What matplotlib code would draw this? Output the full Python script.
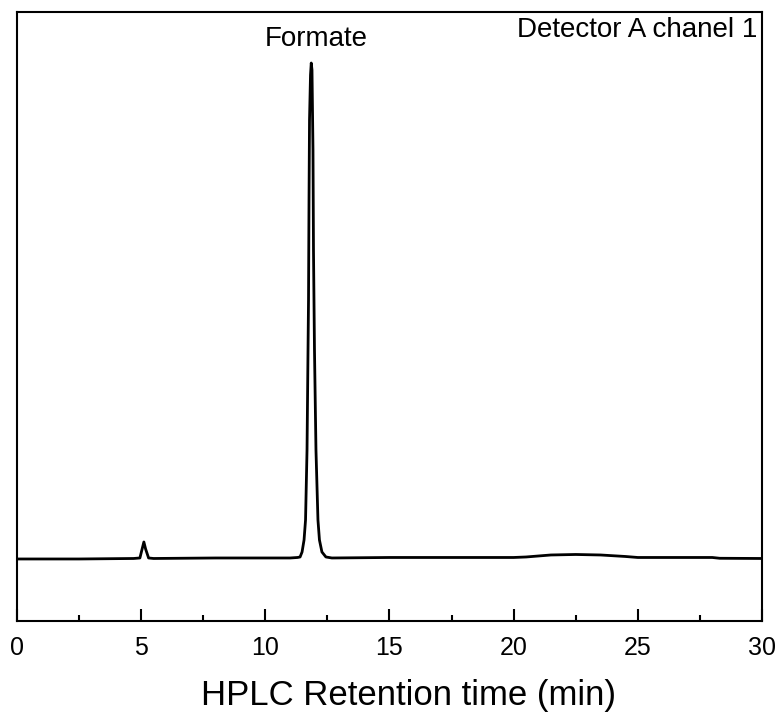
import matplotlib
matplotlib.use('Agg')
import matplotlib.pyplot as plt
from matplotlib.ticker import MultipleLocator

plt.rcParams['font.family'] = ['Liberation Sans', 'DejaVu Sans']

# Cromatograma (tiempo en min, senal en unidades arbitrarias)
tiempo = [0.0, 2.5, 4.7, 4.95, 5.05, 5.11, 5.18, 5.3, 5.5, 8.0, 10.0, 11.0,
          11.3, 11.4, 11.48, 11.56, 11.62, 11.68, 11.72, 11.74, 11.76, 11.78,
          11.82, 11.85, 11.88, 11.92, 11.94, 11.98, 12.04, 12.12, 12.18, 12.28,
          12.44, 12.68, 15.0, 20.0, 20.5, 21.0, 21.5, 22.5, 23.5, 24.5, 25.0,
          28.0, 28.3, 30.0]
senal = [62, 62, 62.5, 63, 73, 79, 72, 63, 62.5, 63, 63, 63,
         63.5, 64, 69, 81, 101, 171, 271, 321, 421, 501,
         546, 558, 551, 471, 371, 271, 171, 101, 81, 69,
         64, 63, 63.5, 63.5, 64, 65, 66, 66.5, 66, 64.5, 63.5,
         63.5, 62.7, 62.5]

x_ticks = [0, 5, 10, 15, 20, 25, 30]

fig = plt.figure(figsize=(7.82, 7.15), dpi=100)
ax = fig.add_axes([0.0217, 0.1315, 0.9527, 0.8517])

ax.plot(tiempo, senal, color='black', linewidth=2.0)

ax.set_xlim(0, 30)
ax.set_ylim(0, 609)
ax.set_xticks(x_ticks)
ax.xaxis.set_minor_locator(MultipleLocator(2.5))
ax.set_yticks([])
ax.tick_params(axis='x', which='major', direction='in', length=8.5, width=1.5,
               labelsize=18, pad=11, top=False)
ax.tick_params(axis='x', which='minor', direction='in', length=4.3, width=1.5, top=False)
for s in ax.spines.values():
    s.set_linewidth(1.5)

ax.set_xlabel('HPLC Retention time (min)', fontsize=25)
ax.xaxis.set_label_coords(0.5255, -0.095)

ax.text(12.06, 575, 'Formate', fontsize=20, ha='center', va='baseline')
ax.text(0.9933, 584, 'Detector A chanel 1', fontsize=20, ha='right', va='baseline',
        transform=ax.get_yaxis_transform())

fig.savefig('out.png', dpi=100)
